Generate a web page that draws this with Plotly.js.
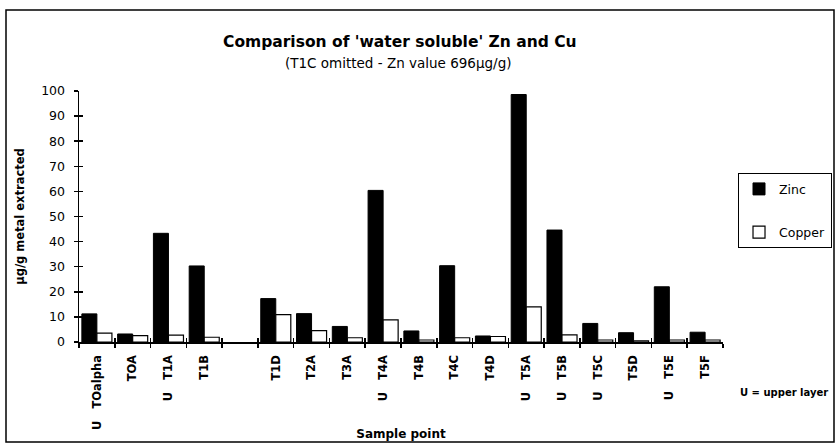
<!DOCTYPE html>
<html><head><meta charset="utf-8">
<script src="https://cdn.plot.ly/plotly-3.0.1.min.js"></script>
<style>html,body{margin:0;padding:0;background:#fff}#c{width:835px;height:443px}</style>
</head><body><div id="c"></div>
<script>
const categories = ['TOalpha','TOA','T1A','T1B','T1C','T1D','T2A','T3A','T4A','T4B','T4C','T4D','T5A','T5B','T5C','T5D','T5E','T5F'];
const tickLabels = ['U   TOalpha','TOA','U   T1A','T1B','','T1D','T2A','T3A','U   T4A','T4B','T4C','T4D','U   T5A','U   T5B','U   T5C','T5D','U   T5E','T5F'];
const zinc   = [11.2, 3.2, 43.3, 30.3, null, 17.3, 11.3, 6.2, 60.4, 4.4, 30.4, 2.4, 98.6, 44.6, 7.4, 3.7, 22.0, 3.9];
const copper = [3.5, 2.5, 2.7, 1.9, null, 10.9, 4.5, 1.7, 8.8, 0.8, 1.7, 2.2, 14.0, 2.8, 0.8, 0.5, 0.8, 0.8];

const F = 'DejaVu Sans, sans-serif';
const traces = [
  {type:'bar', name:'Zinc', legendgroup:'a', x:categories, y:zinc, marker:{color:'#000', line:{color:'#000', width:1}}},
  {type:'bar', name:'Copper', legendgroup:'b', x:categories, y:copper, marker:{color:'#fff', line:{color:'#000', width:1.2}}},
  {type:'bar', x:categories, y:categories.map(()=>null), xaxis:'x2', yaxis:'y2', showlegend:false, hoverinfo:'skip'}
];
const layout = {
  width:835, height:443,
  margin:{l:79, r:112, t:91, b:101, autoexpand:false},
  paper_bgcolor:'#fff', plot_bgcolor:'#fff',
  font:{family:F, color:'#000', size:12},
  barmode:'group', bargap:0.16, bargroupgap:0,
  showlegend:true,
  legend:{x:1.023, y:0.673, xanchor:'left', yanchor:'top', bordercolor:'#000', borderwidth:1.2,
          bgcolor:'#fff', font:{family:F, size:12.5}, tracegroupgap:24, itemwidth:30,
          entrywidth:110},
  xaxis:{type:'category', categoryorder:'array', categoryarray:categories,
         tickmode:'array', tickvals:categories, ticktext:tickLabels, tickangle:-90,
         tickson:'boundaries', ticks:'outside', ticklen:4, tickwidth:1.5, tickcolor:'#000',
         showline:true, linecolor:'#000', linewidth:1.5, showgrid:false, zeroline:false,
         tickfont:{family:F, size:11.5, color:'#000', weight:'bold'}, ticklabelstandoff:7,
         title:{text:'<b>Sample point</b>', font:{family:F, size:12}, standoff:0},
         automargin:false, range:[-0.5,17.5]},
  xaxis2:{type:'category', overlaying:'x', matches:'x', categoryorder:'array', categoryarray:categories,
          tickson:'boundaries', ticks:'inside', ticklen:4, tickwidth:1.5, tickcolor:'#000',
          showticklabels:false, showgrid:false, zeroline:false, showline:false, anchor:'y2'},
  yaxis:{range:[0,100], tickmode:'array', tickvals:[0,10,20,30,40,50,60,70,80,90,100],
         ticks:'outside', ticklen:4, tickwidth:1.5, tickcolor:'#000',
         showline:true, linecolor:'#000', linewidth:1.5, showgrid:false, zeroline:false,
         tickfont:{family:F, size:12.5, color:'#000'}, ticklabelstandoff:6,
         title:{text:'<b>µg/g metal extracted</b>', font:{family:F, size:11.5}, standoff:14}, automargin:false},
  yaxis2:{overlaying:'y', matches:'y', range:[0,100], tickmode:'array', tickvals:[0,10,20,30,40,50,60,70,80,90,100],
          ticks:'inside', ticklen:4, tickwidth:1.5, tickcolor:'#000', showticklabels:false,
          showgrid:false, zeroline:false, showline:false, anchor:'x2'},
  annotations:[
    {xref:'paper', yref:'paper', x:(400-79)/644, y:(342-42)/251, xanchor:'center', yanchor:'middle',
     text:"<b>Comparison of 'water soluble' Zn and Cu</b>", showarrow:false, font:{family:F, size:15.5}},
    {xref:'paper', yref:'paper', x:(398-79)/644, y:(342-63)/251, xanchor:'center', yanchor:'middle',
     text:'(T1C omitted - Zn value 696µg/g)', showarrow:false, font:{family:F, size:13.5}},
    {xref:'paper', yref:'paper', x:1.023, y:(342-392)/251, xanchor:'left', yanchor:'middle',
     text:'<b>U = upper layer</b>', showarrow:false, font:{family:F, size:10}}
  ],
  shapes:[
    {type:'rect', xref:'paper', yref:'paper', x0:(6-79)/644, x1:(834-79)/644, y0:(342-442)/251, y1:(342-10)/251,
     line:{color:'#000', width:1.5}, fillcolor:'rgba(0,0,0,0)'}
  ]
};
Plotly.newPlot('c', traces, layout, {staticPlot:true});
</script></body></html>
